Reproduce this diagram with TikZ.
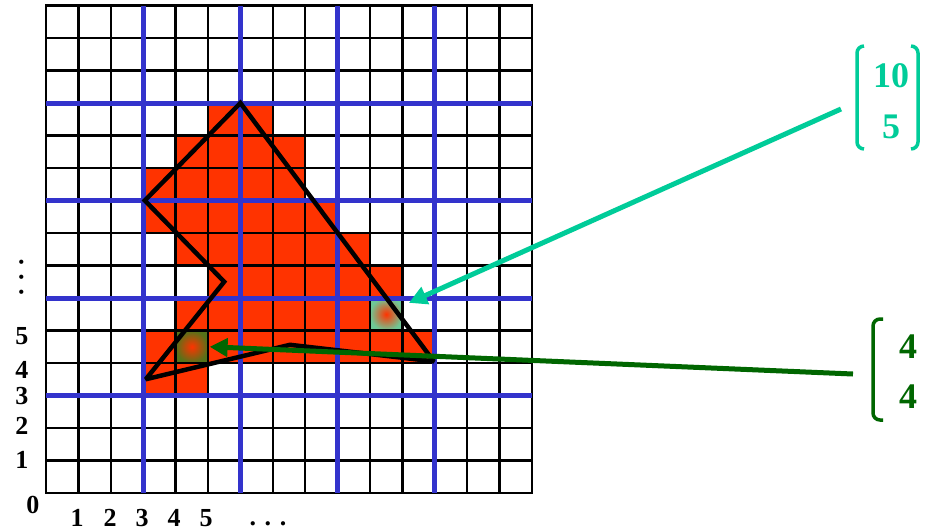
\documentclass[tikz,border=0pt]{standalone}
\usepackage{fontspec}
\setmainfont{Liberation Serif}
\usetikzlibrary{arrows.meta}
\definecolor{cellred}{RGB}{255,51,0}
\definecolor{gridblue}{RGB}{51,51,204}
\definecolor{tealarrow}{RGB}{0,204,153}
\definecolor{darkgreen}{RGB}{0,102,0}
\definecolor{olivehl}{RGB}{85,115,25}
\definecolor{tealhl}{RGB}{110,200,150}
\begin{document}
\begin{tikzpicture}[x=1pt,y=-1pt,
  lbl/.style={font=\fontsize{26}{26}\selectfont\bfseries, inner sep=0pt},
  big/.style={font=\fontsize{36}{36}\selectfont\bfseries, inner sep=0pt},
  gridline/.style={line width=2.5pt, black},
  blueline/.style={line width=5pt, gridblue},
  outline/.style={line width=4.5pt, black, line join=miter, miter limit=2.5},
  pointer/.style={line width=5pt, -{Triangle[length=18pt,width=18pt]}},
  bracket/.style={line width=3.5pt, rounded corners=7pt}]
\useasboundingbox (0,0) rectangle (927,531);
\begin{scope}[shift={(46,493)}, x=32.4pt, y=32.5pt]
  % filled cells
  \foreach \j/\a/\b in {11/5/6, 10/4/7, 9/3/7, 8/3/8, 7/4/9, 6/5/10, 5/4/9, 4/3/11, 3/3/4}
    \fill[cellred] (\a,\j) rectangle (\b+1,\j+1);
  \shade[inner color=cellred, outer color=olivehl] (4,4) rectangle (5,5);
  \shade[inner color=cellred, outer color=tealhl] (10,5) rectangle (11,6);
  % grid
  \foreach \k in {0,...,15} {
    \draw[gridline] (\k,0) -- (\k,15);
    \draw[gridline] (0,\k) -- (15,\k);
  }
  \draw[gridline] (0,0) rectangle (15,15);
  \foreach \k in {3,6,9,12} {
    \draw[blueline] (\k,0) -- (\k,15);
    \draw[blueline] (0,\k) -- (15,\k);
  }
  % polygon
  \draw[outline] (6,12) -- (3.05,9) -- (5.5,6.5) -- (3.08,3.5) -- (7.53,4.56) -- (11.97,4.05) -- cycle;
  % arrow targets
  \coordinate (p1) at (11.2,5.85);
  \coordinate (p2) at (5.05,4.5);
\end{scope}
% axis labels
\node[lbl] (r5) at (22,336) {5};
\node[lbl] (r4) at (22,370) {4};
\node[lbl] (r3) at (22,396) {3};
\node[lbl] (r2) at (22,426) {2};
\node[lbl] (r1) at (22,460) {1};
\node[lbl] (r0) at (33,505) {0};
\node[lbl] (c1) at (77,518) {1};
\node[lbl] (c2) at (110,518) {2};
\node[lbl] (c3) at (142,518) {3};
\node[lbl] (c4) at (174,518) {4};
\node[lbl] (c5) at (206,518) {5};
\node[lbl] (hdots) at (268,524) {. . .};
\node[lbl, rotate=90] (vdots) at (22,277) {. . .};
% teal vector
\node[big, text=tealarrow] (t10) at (891,76) {10};
\node[big, text=tealarrow] (t5) at (891,127) {5};
\draw[bracket, tealarrow] (864,46) -- (857,46) -- (857,149) -- (864,149);
\draw[bracket, tealarrow] (911,46) -- (918,46) -- (918,149) -- (911,149);
\coordinate (ts) at (841,109);
\draw[pointer, tealarrow] (ts) -- (p1);
% green vector
\node[big, text=darkgreen] (g1) at (908,347) {4};
\node[big, text=darkgreen] (g2) at (908,397) {4};
\draw[bracket, darkgreen] (883,319) -- (873,319) -- (873,420) -- (883,420);
\coordinate (gs) at (853,374);
\draw[pointer, darkgreen] (gs) -- (p2);
\end{tikzpicture}
\end{document}
